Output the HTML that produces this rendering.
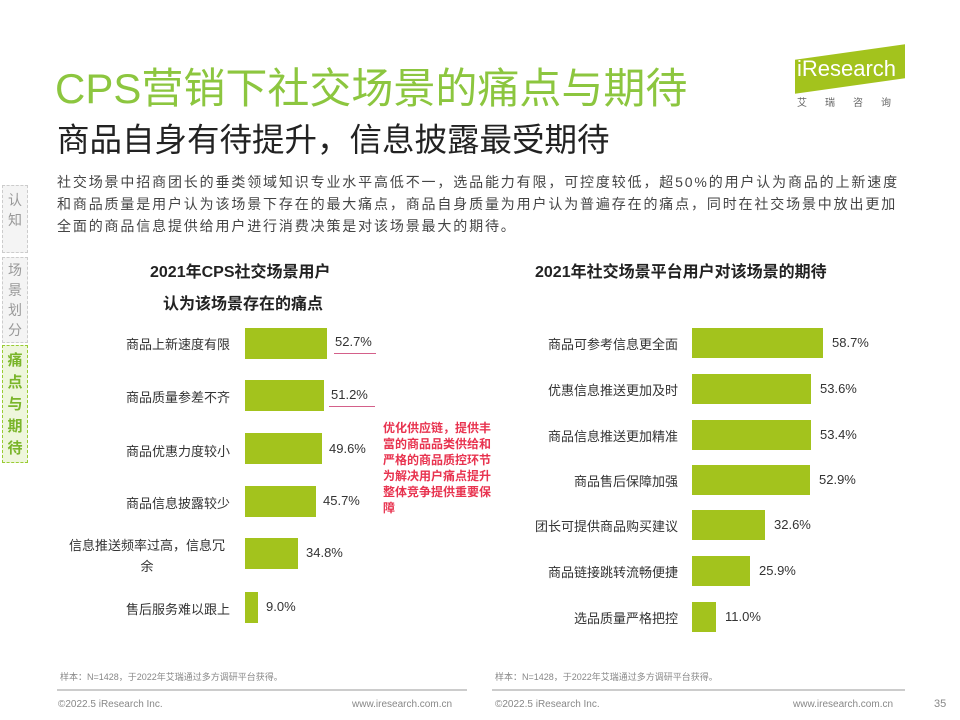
<!DOCTYPE html><html><head><meta charset="utf-8"><style>
body{margin:0;width:960px;height:720px;background:#fff;position:relative;overflow:hidden;font-family:"Liberation Sans","Noto Sans CJK SC",sans-serif;color:#333}
.a{position:absolute;white-space:nowrap}
.bar{position:absolute;background:#a3c31d}
.lab{position:absolute;font-size:13px;color:#333;text-align:right}
.val{position:absolute;font-size:13px;color:#333}
</style></head><body>
<div class="a" style="left:55px;top:55px;font-size:42px;color:#8cc63f">CPS营销下社交场景的痛点与期待</div>
<div class="a" style="left:57px;top:114px;font-size:32.5px;color:#222">商品自身有待提升，信息披露最受期待</div>
<div class="a" style="left:795px;top:52px;width:110px;height:34px;background:#a3c31d;transform:skewY(-8deg)"></div>
<div class="a" style="left:797px;top:56px;font-size:22px;color:#fff">iResearch</div>
<div class="a" style="left:797px;top:94px;font-size:10px;color:#666;letter-spacing:18px">艾瑞咨询</div>
<div class="a" style="left:57px;top:171px;font-size:14px;line-height:22px;color:#444;letter-spacing:1.85px">社交场景中招商团长的垂类领域知识专业水平高低不一，选品能力有限，可控度较低，超50%的用户认为商品的上新速度<br>和商品质量是用户认为该场景下存在的最大痛点，商品自身质量为用户认为普遍存在的痛点，同时在社交场景中放出更加<br>全面的商品信息提供给用户进行消费决策是对该场景最大的期待。</div>
<div class="a" style="left:2px;top:185px;width:24px;height:62px;border:1px dashed #ccc;background:#f4f4f4;font-size:14px;color:#999;line-height:20px;text-align:center;white-space:normal;padding-top:4px">认知</div>
<div class="a" style="left:2px;top:257px;width:24px;height:82px;border:1px dashed #ccc;background:#f4f4f4;font-size:14px;color:#999;line-height:20px;text-align:center;white-space:normal;padding-top:2px">场景划分</div>
<div class="a" style="left:2px;top:345px;width:24px;height:112px;border:1px dashed #9c3;background:#eef6dc;font-size:15px;color:#7ab52a;line-height:22px;text-align:center;white-space:normal;padding-top:4px;font-weight:bold">痛点与期待</div>
<div class="a" style="left:150px;top:258px;font-size:16px;font-weight:bold;color:#222">2021年CPS社交场景用户</div>
<div class="a" style="left:163px;top:290px;font-size:16px;font-weight:bold;color:#222">认为该场景存在的痛点</div>
<div class="a" style="left:535px;top:258px;font-size:16px;font-weight:bold;color:#222">2021年社交场景平台用户对该场景的期待</div>
<div class="lab" style="left:60px;width:170px;top:334px">商品上新速度有限</div>
<div class="bar" style="left:245px;top:328px;width:82px;height:31px"></div><div class="val" style="left:335px;top:334px">52.7%</div>
<div class="a" style="left:334px;top:353px;width:42px;height:1px;background:#d4608a"></div>
<div class="lab" style="left:60px;width:170px;top:387px">商品质量参差不齐</div>
<div class="bar" style="left:245px;top:380px;width:79px;height:31px"></div><div class="val" style="left:331px;top:387px">51.2%</div>
<div class="a" style="left:329px;top:406px;width:46px;height:1px;background:#d4608a"></div>
<div class="lab" style="left:60px;width:170px;top:441px">商品优惠力度较小</div>
<div class="bar" style="left:245px;top:433px;width:77px;height:31px"></div><div class="val" style="left:329px;top:441px">49.6%</div>
<div class="lab" style="left:60px;width:170px;top:493px">商品信息披露较少</div>
<div class="bar" style="left:245px;top:486px;width:71px;height:31px"></div><div class="val" style="left:323px;top:493px">45.7%</div>
<div class="lab" style="left:64px;width:166px;top:535px;white-space:normal;text-align:center;line-height:21px">信息推送频率过高，信息冗余</div>
<div class="bar" style="left:245px;top:538px;width:53px;height:31px"></div><div class="val" style="left:306px;top:545px">34.8%</div>
<div class="lab" style="left:60px;width:170px;top:599px">售后服务难以跟上</div>
<div class="bar" style="left:245px;top:592px;width:13px;height:31px"></div><div class="val" style="left:266px;top:599px">9.0%</div>
<div class="a" style="left:383px;top:420px;font-size:12px;line-height:16px;color:#e8334f;font-weight:bold;white-space:normal;width:112px">优化供应链，提供丰富的商品品类供给和严格的商品质控环节为解决用户痛点提升整体竞争提供重要保障</div>
<div class="lab" style="left:480px;width:198px;top:334px">商品可参考信息更全面</div><div class="bar" style="left:692px;top:328px;width:131px;height:30px"></div><div class="val" style="left:832px;top:335px">58.7%</div>
<div class="lab" style="left:480px;width:198px;top:380px">优惠信息推送更加及时</div><div class="bar" style="left:692px;top:374px;width:119px;height:30px"></div><div class="val" style="left:820px;top:381px">53.6%</div>
<div class="lab" style="left:480px;width:198px;top:426px">商品信息推送更加精准</div><div class="bar" style="left:692px;top:420px;width:119px;height:30px"></div><div class="val" style="left:820px;top:427px">53.4%</div>
<div class="lab" style="left:480px;width:198px;top:471px">商品售后保障加强</div><div class="bar" style="left:692px;top:465px;width:118px;height:30px"></div><div class="val" style="left:819px;top:472px">52.9%</div>
<div class="lab" style="left:480px;width:198px;top:516px">团长可提供商品购买建议</div><div class="bar" style="left:692px;top:510px;width:73px;height:30px"></div><div class="val" style="left:774px;top:517px">32.6%</div>
<div class="lab" style="left:480px;width:198px;top:562px">商品链接跳转流畅便捷</div><div class="bar" style="left:692px;top:556px;width:58px;height:30px"></div><div class="val" style="left:759px;top:563px">25.9%</div>
<div class="lab" style="left:480px;width:198px;top:608px">选品质量严格把控</div><div class="bar" style="left:692px;top:602px;width:24px;height:30px"></div><div class="val" style="left:725px;top:609px">11.0%</div>
<div class="a" style="left:60px;top:670px;font-size:9px;color:#888">样本：N=1428，于2022年艾瑞通过多方调研平台获得。</div>
<div class="a" style="left:495px;top:670px;font-size:9px;color:#888">样本：N=1428，于2022年艾瑞通过多方调研平台获得。</div>
<div class="a" style="left:57px;top:689px;width:410px;height:2px;background:#ccc"></div>
<div class="a" style="left:492px;top:689px;width:413px;height:2px;background:#ccc"></div>
<div class="a" style="left:58px;top:699px;font-size:10px;color:#888">©2022.5 iResearch Inc.</div>
<div class="a" style="left:352px;top:699px;font-size:10px;color:#888">www.iresearch.com.cn</div>
<div class="a" style="left:495px;top:699px;font-size:10px;color:#888">©2022.5 iResearch Inc.</div>
<div class="a" style="left:793px;top:699px;font-size:10px;color:#888">www.iresearch.com.cn</div>
<div class="a" style="left:934px;top:698px;font-size:11px;color:#888">35</div>
</body></html>
